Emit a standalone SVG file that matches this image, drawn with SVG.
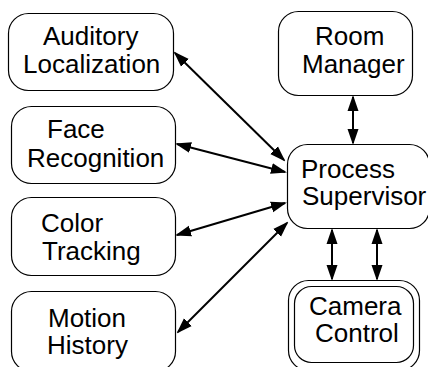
<svg xmlns="http://www.w3.org/2000/svg" width="428" height="367" viewBox="0 0 428 367">
<style>
.box{fill:#fff;stroke:#000;stroke-width:1.2}
.t{font-family:"Liberation Sans",Arial,sans-serif;font-size:26px;fill:#000}
.c{stroke:#000;stroke-width:2;fill:none;marker-start:url(#ah);marker-end:url(#ah)}
</style>
<defs>
<marker id="ah" markerUnits="userSpaceOnUse" markerWidth="16" markerHeight="12" viewBox="0 0 16 12" refX="14" refY="6" orient="auto-start-reverse">
<path d="M0,0.5 L16,6 L0,11.5 z" fill="#000"/>
</marker>
</defs>
<rect width="428" height="367" fill="#fff"/>
<g id="connectors">
<line class="c" x1="175" y1="53" x2="284" y2="160"/>
<line class="c" x1="177" y1="144" x2="285" y2="172"/>
<line class="c" x1="177" y1="235" x2="285" y2="203"/>
<line class="c" x1="178" y1="332" x2="287" y2="223"/>
<line class="c" x1="353" y1="97" x2="353" y2="143"/>
<line class="c" x1="332" y1="230" x2="332" y2="279"/>
<line class="c" x1="377" y1="230" x2="377" y2="279"/>
</g>
<g id="auditory">
<rect class="box" x="8.5" y="13.5" width="165" height="77" rx="20"/>
<text class="t" x="43" y="45">Auditory</text>
<text class="t" x="23" y="73">Localization</text>
</g>
<g id="face">
<rect class="box" x="11.5" y="106.5" width="164" height="77" rx="20"/>
<text class="t" x="47" y="138">Face</text>
<text class="t" x="27" y="167">Recognition</text>
</g>
<g id="color">
<rect class="box" x="11.5" y="197.5" width="164" height="78" rx="20"/>
<text class="t" x="41" y="232">Color</text>
<text class="t" x="42" y="260">Tracking</text>
</g>
<g id="motion">
<rect class="box" x="11.5" y="291.5" width="164" height="80" rx="20"/>
<text class="t" x="48" y="327">Motion</text>
<text class="t" x="47" y="354">History</text>
</g>
<g id="room">
<rect class="box" x="278.5" y="11.5" width="134" height="84" rx="20"/>
<text class="t" x="315" y="45">Room</text>
<text class="t" x="302" y="73">Manager</text>
</g>
<g id="process">
<rect class="box" x="287.5" y="144.5" width="142" height="84" rx="20"/>
<text class="t" x="301" y="178">Process</text>
<text class="t" x="302" y="205">Supervisor</text>
</g>
<g id="camera">
<rect class="box" x="288.5" y="280.5" width="131" height="90" rx="20"/>
<rect class="box" x="294.5" y="286.5" width="119" height="76" rx="17"/>
<text class="t" x="309" y="315">Camera</text>
<text class="t" x="315" y="342">Control</text>
</g>
</svg>
